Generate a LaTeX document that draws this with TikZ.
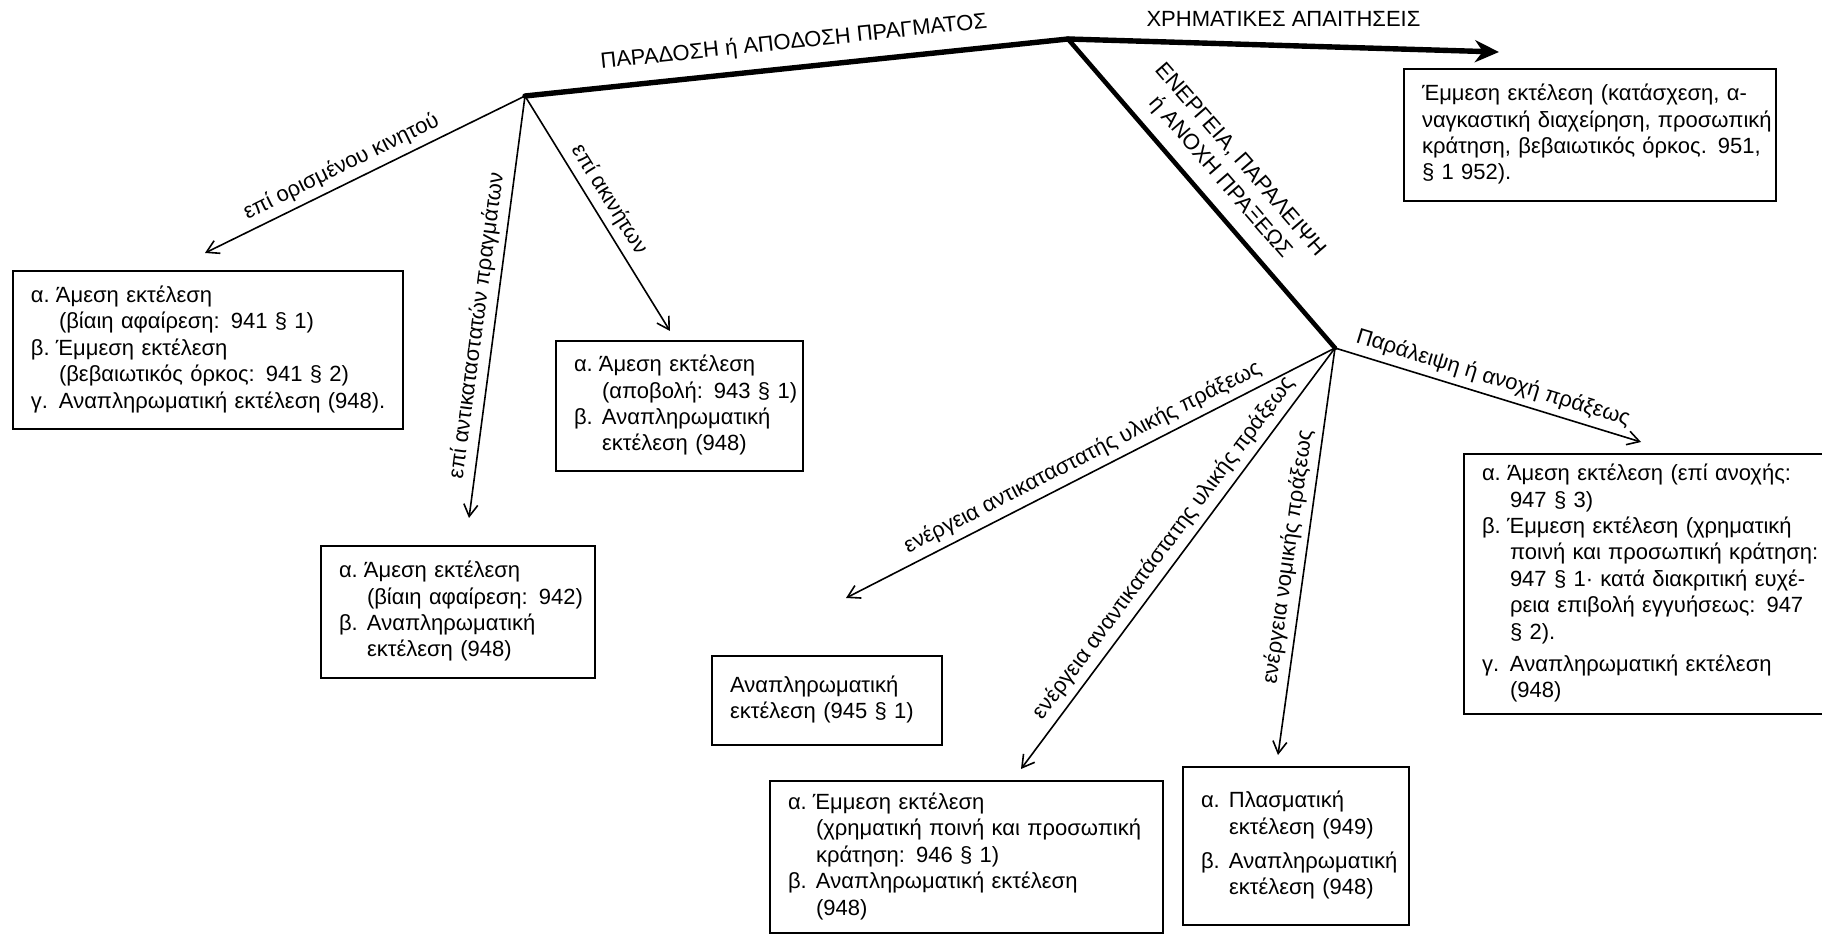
\documentclass[tikz,border=0pt]{standalone}
\usepackage{fontspec}
\setmainfont{Liberation Sans}
\usetikzlibrary{arrows.meta}
\newcommand{\itm}[1]{\makebox[14pt][l]{#1}}
\newcommand{\jl}[2]{\makebox[#1][s]{#2}}
\newcommand{\tn}{\hspace{-1.5pt}}
\newenvironment{lines}{\noindent\begin{tabular}{@{}l@{}}}{\end{tabular}}
\begin{document}
\begin{tikzpicture}[x=0.5pt,y=-0.5pt,
  txt/.style={font=\fontsize{11}{13.2}\selectfont},
  box/.style={draw, line width=1pt, anchor=north west, align=left, inner xsep=9pt, inner ysep=0pt, txt},
  heavy/.style={line width=2.7pt, line join=round, line cap=round},
  arr/.style={line width=0.8pt, -{Straight Barb[length=6pt,width=7pt]}},
  lab/.style={txt, sloped, above=2pt, inner sep=1pt}]
\useasboundingbox (0,0) rectangle (1822,935);
\clip (0,0) rectangle (1822,935);
% hubs and arrow ends
\coordinate (h1) at (525,96);
\coordinate (h2) at (1068,39);
\coordinate (h3) at (1335,348);
\coordinate (t0) at (1499,52);
\coordinate (ta1) at (205,253);
\coordinate (ta2) at (469,518);
\coordinate (ta3) at (670,331);
\coordinate (tb1) at (1641,442);
\coordinate (tb2) at (846,598);
\coordinate (tb3) at (1021,769);
\coordinate (tb4) at (1278,755);
% boxes
\node[box, text width=168pt, minimum height=66pt] (btr) at (1403,68)
  {\begin{lines}
   \jl{168pt}{Έμμεση εκτέλεση (κατάσχεση, α-}\\
   \jl{168pt}{ναγκαστική διαχείρηση, προσωπική}\\
   \jl{168pt}{κράτηση, βεβαιωτικός όρκος. 951,}\\
   § 1 952).
   \end{lines}};
\node[box, text width=177pt, minimum height=79pt] (b1) at (12,270)
  {\begin{lines}
   \itm{α.}\tn Άμεση εκτέλεση\\
   \itm{}(βίαιη αφαίρεση: 941 § 1)\\
   \itm{β.}\tn Έμμεση εκτέλεση\\
   \itm{}(βεβαιωτικός όρκος: 941 § 2)\\
   \itm{γ.}Αναπληρωματική εκτέλεση (948).
   \end{lines}};
\node[box, text width=105.5pt, minimum height=65pt] (b2) at (555,340)
  {\begin{lines}
   \itm{α.}\tn Άμεση εκτέλεση\\
   \itm{}(αποβολή: 943 § 1)\\
   \itm{β.}Αναπληρωματική\\
   \itm{}εκτέλεση (948)
   \end{lines}};
\node[box, text width=119pt, minimum height=66pt] (b3) at (320,545)
  {\begin{lines}
   \itm{α.}\tn Άμεση εκτέλεση\\
   \itm{}(βίαιη αφαίρεση: 942)\\
   \itm{β.}Αναπληρωματική\\
   \itm{}εκτέλεση (948)
   \end{lines}};
\node[box, text width=97pt, minimum height=44.5pt] (b4) at (711,655)
  {\begin{lines}
   Αναπληρωματική\\
   εκτέλεση (945 § 1)
   \end{lines}};
\node[box, text width=178.5pt, minimum height=76pt] (b5) at (769,780)
  {\begin{lines}
   \itm{α.}\tn Έμμεση εκτέλεση\\
   \itm{}(χρηματική ποινή και προσωπική\\
   \itm{}κράτηση: 946 § 1)\\
   \itm{β.}Αναπληρωματική εκτέλεση\\
   \itm{}(948)
   \end{lines}};
\node[box, text width=95pt, minimum height=79pt] (b6) at (1182,766)
  {\begin{lines}
   \itm{α.}Πλασματική\\
   \itm{}εκτέλεση (949)\\[4pt]
   \itm{β.}Αναπληρωματική\\
   \itm{}εκτέλεση (948)
   \end{lines}};
\node[box, text width=175pt, minimum height=130pt] (b7) at (1463,453)
  {\begin{lines}
   \itm{α.}\tn\jl{154.5pt}{Άμεση εκτέλεση (επί ανοχής:}\\
   \itm{}947 § 3)\\
   \itm{β.}\tn\jl{154.5pt}{Έμμεση εκτέλεση (χρηματική}\\
   \itm{}\jl{153pt}{ποινή και προσωπική κράτηση:}\\
   \itm{}\jl{153pt}{947 § 1· κατά διακριτική ευχέ-}\\
   \itm{}\jl{153pt}{ρεια επιβολή εγγυήσεως: 947}\\
   \itm{}§ 2).\\[3pt]
   \itm{γ.}Αναπληρωματική εκτέλεση\\
   \itm{}(948)
   \end{lines}};
% main lines
\draw[heavy] (h1) -- node[lab, above=3pt] {ΠΑΡΑΔΟΣΗ ή ΑΠΟΔΟΣΗ ΠΡΑΓΜΑΤΟΣ} (h2);
\draw[heavy, -{Stealth[length=12pt,width=11pt]}] (h2) -- node[txt, above=5pt] {ΧΡΗΜΑΤΙΚΕΣ ΑΠΑΙΤΗΣΕΙΣ} (t0);
\draw[heavy, line width=2.3pt] (h2) -- node[lab, above=3pt, align=center] {ΕΝΕΡΓΕΙΑ, ΠΑΡΑΛΕΙΨΗ\\ή ΑΝΟΧΗ ΠΡΑΞΕΩΣ} (h3);
% branches
\draw[arr] (h1) -- node[lab, pos=0.55] {επί ορισμένου κινητού} (ta1);
\draw[arr] (h1) -- node[lab, pos=0.55] {επί αντικαταστατών πραγμάτων} (ta2);
\draw[arr] (h1) -- node[lab, pos=0.48] {επί ακινήτων} (ta3);
\draw[arr] (h3) -- node[lab, pos=0.5] {Παράλειψη ή ανοχή πράξεως} (tb1);
\draw[arr] (h3) -- node[lab, pos=0.5] {ενέργεια αντικαταστατής υλικής πράξεως} (tb2);
\draw[arr] (h3) -- node[lab, pos=0.5] {ενέργεια αναντικατάστατης υλικής πράξεως} (tb3);
\draw[arr] (h3) -- node[lab, pos=0.52] {ενέργεια νομικής πράξεως} (tb4);
\end{tikzpicture}
\end{document}
